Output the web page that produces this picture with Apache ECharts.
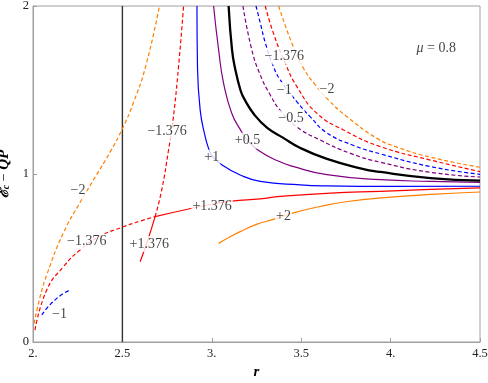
<!DOCTYPE html>
<html>
<head>
<meta charset="utf-8">
<script src="https://cdn.jsdelivr.net/npm/echarts@6/dist/echarts.min.js"></script>
<style>
html,body{margin:0;padding:0;background:#fff;}
#main{width:488px;height:383px;}
</style>
</head>
<body>
<div id="main"></div>
<script>
// points, [r, E_c - QP]
var blackSolid = [[3.094,2.0],[3.113,1.74],[3.13,1.63],[3.16,1.50],[3.18,1.45],[3.24,1.35],[3.31,1.275],[3.40,1.215],[3.495,1.155],[3.644,1.09],[3.831,1.034],[3.943,1.012],[4.223,0.976],[4.5,0.96]];
var purpleSolid = [[3.01,2.0],[3.038,1.74],[3.066,1.54],[3.112,1.36],[3.163,1.258],[3.20,1.20],[3.262,1.14],[3.364,1.08],[3.458,1.044],[3.644,0.996],[3.943,0.966],[4.223,0.956],[4.5,0.95]];
var blueSolid = [[2.917,2.0],[2.92,1.64],[2.935,1.38],[2.963,1.222],[2.982,1.153],[3.0,1.11],[3.057,1.054],[3.159,0.994],[3.271,0.956],[3.495,0.935],[3.644,0.929],[4.0,0.926],[4.5,0.927]];
var redSolid = [[2.683,0.746],[2.889,0.796],[3.0,0.82],[3.112,0.838],[3.271,0.852],[3.383,0.867],[3.663,0.886],[3.943,0.897],[4.223,0.908],[4.5,0.917]];
var redSolidSteep = [[2.599,0.478],[2.64,0.60],[2.683,0.746]];
var orangeSolid = [[3.038,0.587],[3.10,0.625],[3.159,0.657],[3.25,0.70],[3.345,0.73],[3.467,0.772],[3.6,0.805],[3.75,0.835],[4.0,0.862],[4.25,0.88],[4.5,0.893]];

var redDashLow = [[2.011,0.071],[2.077,0.31],[2.17,0.448],[2.263,0.548],[2.375,0.63],[2.5,0.684],[2.6,0.72],[2.683,0.746]];
var redDashSteep = [[2.683,0.746],[2.72,0.905],[2.758,1.143],[2.782,1.31],[2.814,1.64],[2.842,2.0]];
var orangeDashLeft = [[2.006,0.11],[2.04,0.27],[2.077,0.40],[2.17,0.65],[2.263,0.83],[2.33,0.95],[2.431,1.13],[2.5,1.27],[2.56,1.42],[2.63,1.64],[2.707,2.0]];
var blueDashLeft = [[2.049,0.161],[2.085,0.21],[2.123,0.25],[2.165,0.285],[2.207,0.31]];
var orangeDashRight = [[3.374,2.0],[3.448,1.778],[3.513,1.629],[3.579,1.53],[3.653,1.44],[3.756,1.341],[3.924,1.212],[4.036,1.16],[4.223,1.10],[4.5,1.04]];
var redDashRight = [[3.299,2.0],[3.345,1.837],[3.411,1.659],[3.476,1.52],[3.588,1.361],[3.737,1.262],[3.943,1.163],[4.223,1.083],[4.5,1.014]];
var blueDashRight = [[3.247,2.0],[3.271,1.90],[3.30,1.778],[3.345,1.639],[3.383,1.56],[3.476,1.43],[3.551,1.34],[3.644,1.245],[3.793,1.17],[3.943,1.12],[4.223,1.044],[4.5,0.998]];
var purpleDashRight = [[3.174,2.0],[3.224,1.738],[3.271,1.59],[3.327,1.47],[3.381,1.381],[3.476,1.28],[3.607,1.202],[3.775,1.123],[3.943,1.07],[4.223,1.01],[4.5,0.982]];

var horizonLine = [[2.5,0],[2.5,2]];

// curve labels: [r, value, text]
var curveLabels = [
  [3.405,1.70,'−1.376'],[3.644,1.504,'−2'],[3.405,1.5,'−1'],[3.443,1.331,'−0.5'],
  [3.20,1.198,'+0.5'],[3.0,1.097,'+1'],[2.75,1.252,'−1.376'],[3.002,0.805,'+1.376'],
  [2.65,0.583,'+1.376'],[2.301,0.597,'−1.376'],[2.252,0.905,'−2'],[2.148,0.167,'−1'],[3.401,0.746,'+2']
];
var muLabel = [[4.255,1.75,'{i|μ} = 0.8']];

var ORANGE = '#ff8000', RED = '#ff0000', BLUE = '#0000ff', PURPLE = '#800080';
var SERIF = '"Liberation Serif", "DejaVu Serif", serif';

function curve(data, color, dashed, width) {
  return {
    type: 'line', data: data, symbol: 'none', smooth: 0.5,
    lineStyle: { color: color, width: width || 1.2, type: dashed ? [4, 2.5] : 'solid' },
    silent: true, z: 3
  };
}

function textSeries(data, withBg) {
  return {
    type: 'scatter', data: data, symbolSize: 1, itemStyle: { color: 'rgba(0,0,0,0)' }, silent: true, z: 10,
    label: { show: true, position: 'inside', formatter: function (p) { return p.data[2]; },
      fontFamily: SERIF, fontSize: 14, color: '#111',
      backgroundColor: withBg ? '#fff' : 'transparent', padding: [1, 1],
      rich: { i: { fontFamily: SERIF, fontSize: 14, fontStyle: 'italic', color: '#111' } } }
  };
}

var myChart = echarts.init(document.getElementById('main'));
var option = {
  animation: false,
  grid: { left: 33, right: 8, top: 6, bottom: 41, containLabel: false, outerBoundsMode: 'none',
    show: true, borderColor: '#a0a0a0', borderWidth: 1 },
  xAxis: {
    type: 'value', min: 2, max: 4.5, interval: 0.5,
    name: 'r', nameLocation: 'middle', nameGap: 20,
    nameTextStyle: { fontFamily: SERIF, fontSize: 15, fontWeight: 'bold', fontStyle: 'italic', color: '#000' },
    axisLine: { lineStyle: { color: '#a0a0a0' } },
    axisTick: { inside: true, length: 4, lineStyle: { color: '#a0a0a0' } },
    splitLine: { show: false },
    axisLabel: { fontFamily: SERIF, fontSize: 12.5, color: '#222', margin: 5,
      formatter: function (v) { return (v % 1 === 0) ? v + '.' : String(v); } }
  },
  yAxis: {
    type: 'value', min: 0, max: 2, interval: 1,
    name: '{e|ℰ}{c|c}{t| − }{e|QP}', nameLocation: 'middle', nameGap: 21, nameRotate: 90,
    nameTextStyle: { color: '#000', rich: {
      e: { fontFamily: SERIF, fontSize: 15, fontWeight: 'bold', fontStyle: 'italic', color: '#000' },
      c: { fontFamily: SERIF, fontSize: 10, fontWeight: 'bold', fontStyle: 'italic', color: '#000', verticalAlign: 'bottom', padding: [6, 0, 0, 0] },
      t: { fontFamily: SERIF, fontSize: 14, color: '#000' }
    } },
    axisLine: { lineStyle: { color: '#a0a0a0' } },
    axisTick: { inside: true, length: 4, lineStyle: { color: '#a0a0a0' } },
    splitLine: { show: false },
    axisLabel: { fontFamily: SERIF, fontSize: 12.5, color: '#222', margin: 4 }
  },
  series: [
    { type: 'line', data: horizonLine, symbol: 'none', lineStyle: { color: '#333', width: 1.4 }, silent: true, z: 2 },
    curve(orangeSolid, ORANGE),
    curve(redSolid, RED),
    curve(redSolidSteep, RED),
    curve(blueSolid, BLUE),
    curve(purpleSolid, PURPLE),
    curve(blackSolid, '#000', false, 2.3),
    curve(redDashLow, RED, true),
    curve(redDashSteep, RED, true),
    curve(orangeDashLeft, ORANGE, true),
    curve(blueDashLeft, BLUE, true),
    curve(orangeDashRight, ORANGE, true),
    curve(redDashRight, RED, true),
    curve(blueDashRight, BLUE, true),
    curve(purpleDashRight, PURPLE, true),
    textSeries(curveLabels, true),
    textSeries(muLabel, false)
  ]
};
myChart.setOption(option);
</script>
</body>
</html>
